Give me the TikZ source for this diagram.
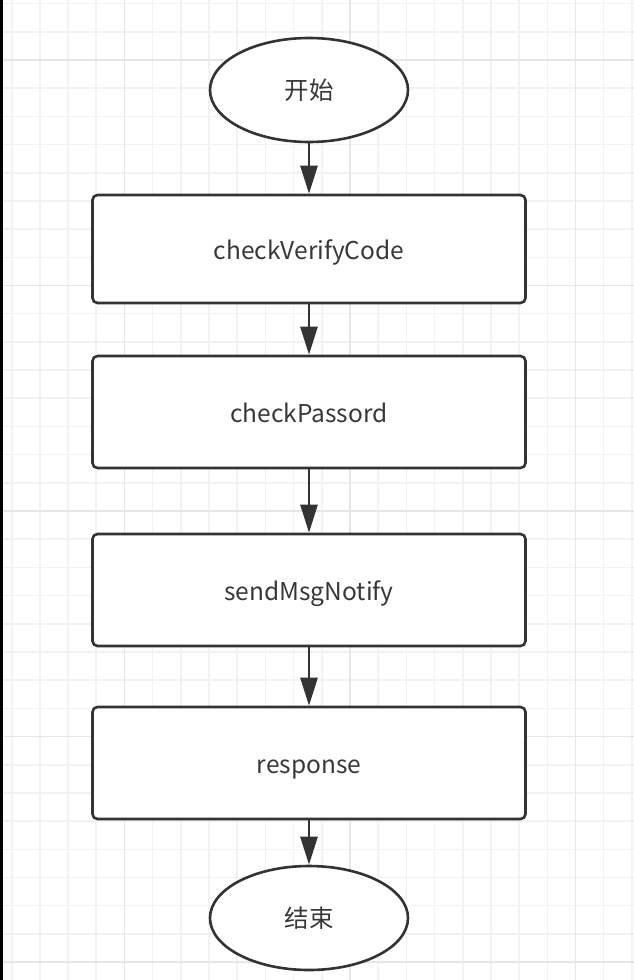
\documentclass[tikz,border=0pt]{standalone}
\usepackage{fontspec}
\setmainfont{Noto Sans CJK SC}
\usetikzlibrary{shapes.geometric, arrows.meta}

\definecolor{linegray}{HTML}{333333}
\definecolor{textgray}{HTML}{383838}
\definecolor{gridminor}{HTML}{F2F2F2}
\definecolor{gridmajor}{HTML}{E6E6E6}

\tikzset{
  terminal/.style={ellipse, draw=linegray, line width=2.6pt, fill=white,
    minimum width=198pt, minimum height=104pt, inner sep=0pt},
  process/.style={rectangle, rounded corners=5pt, draw=linegray, line width=2.6pt,
    fill=white, minimum width=433pt, inner sep=0pt, text height=20pt, text depth=0pt},
  flow/.style={draw=linegray, line width=2.6pt,
    -{Triangle[length=28pt,width=17pt]}},
}

\begin{document}
\begin{tikzpicture}[x=1pt,y=-1pt, font=\fontsize{24.5}{28}\selectfont\color{textgray}]
\useasboundingbox (0,0) rectangle (634,980);
\fill[white] (0,0) rectangle (634,980);
% grid
\foreach \i in {0,...,22}
  \draw[gridminor, line width=1.6pt] ({11.7+28.19*\i},0) -- ({11.7+28.19*\i},980);
\foreach \j in {0,...,34}
  \draw[gridminor, line width=1.6pt] (0,{3.6+28.19*\j}) -- (634,{3.6+28.19*\j});
\foreach \i in {0,...,2}
  \draw[gridmajor, line width=1.6pt] ({124.5+225.5*\i},0) -- ({124.5+225.5*\i},980);
\foreach \j in {0,...,4}
  \draw[gridmajor, line width=1.6pt] (0,{60+225.5*\j}) -- (634,{60+225.5*\j});
\fill[black] (0,0) rectangle (2.5,980);

% shapes
\node[terminal] (start) at (309,90) {开始};
\node[process, minimum height=108pt] (verify) at (309,249) {checkVerifyCode};
\node[process, minimum height=112pt] (passwd) at (309,412) {checkPassord};
\node[process, minimum height=112pt] (notify) at (309,590) {sendMsgNotify};
\node[process, minimum height=112pt] (resp) at (309,763) {response};
\node[terminal] (stop) at (309,918) {结束};

% connectors
\draw[flow] (start) -- (verify);
\draw[flow] (verify) -- (passwd);
\draw[flow] (passwd) -- (notify);
\draw[flow] (notify) -- (resp);
\draw[flow] (resp) -- (stop);
\end{tikzpicture}
\end{document}
